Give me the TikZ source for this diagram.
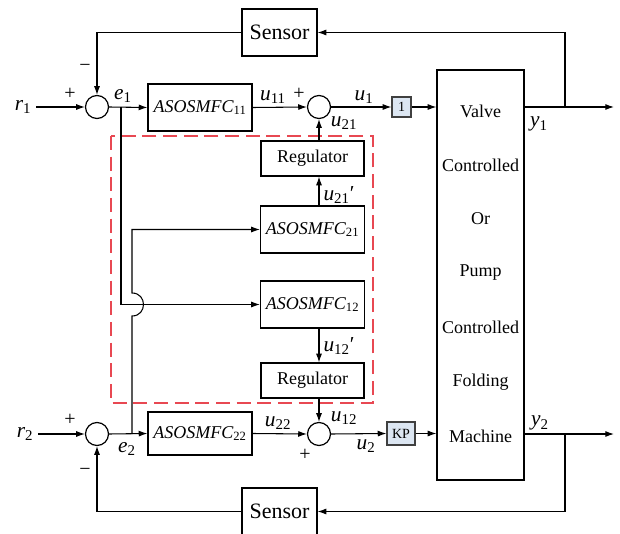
\documentclass[tikz,border=0pt]{standalone}
\usepackage{fontspec}
\setmainfont{Liberation Serif}
\usetikzlibrary{arrows.meta}
\definecolor{dashred}{RGB}{232,72,82}
\definecolor{gainfill}{RGB}{220,230,242}
\begin{document}
\begin{tikzpicture}[x=0.75pt,y=-0.75pt,
  >={Latex[length=6.5pt,width=4.5pt]},
  every path/.style={line width=0.8pt},
  blk/.style={draw,line width=0.9pt,inner sep=0pt,font=\fontsize{13.5}{16}\selectfont},
  ctl/.style={blk,minimum width=78pt,minimum height=35.25pt},
  reg/.style={blk,minimum width=77.25pt,minimum height=26.25pt},
  sens/.style={blk,minimum width=56.25pt,minimum height=35.25pt,font=\fontsize{16.5}{19}\selectfont},
  gain/.style={blk,fill=gainfill,draw=black!75,font=\fontsize{10.5}{12}\selectfont},
  sumc/.style={draw,circle,line width=0.9pt,minimum size=17.25pt,inner sep=0pt},
  lab/.style={inner sep=0pt,font=\fontsize{16}{19}\selectfont},
  sgn/.style={inner sep=0pt,font=\fontsize{15}{18}\selectfont},
  plant/.style={inner sep=0pt,font=\fontsize{13.5}{16}\selectfont}
]
\useasboundingbox (0,0) rectangle (620,534);

% dashed group
\draw[dashred,line width=1.1pt,dash pattern=on 10.5pt off 5pt] (111,136) rectangle (373,403);

% blocks
\node[sens] (sT) at (279.5,32.5) {Sensor};
\node[sens] (sB) at (279.5,511.5) {Sensor};
\node[ctl] (A11) at (200,107.5) {\textit{ASOSMFC}\textsubscript{11}};
\node[ctl,minimum height=32.25pt] (A22) at (200,433.5) {\textit{ASOSMFC}\textsubscript{22}};
\node[reg] (R1) at (312.5,158.5) {Regulator};
\node[ctl] (A21) at (312.5,229.5) {\textit{ASOSMFC}\textsubscript{21}};
\node[ctl] (A12) at (312.5,304.5) {\textit{ASOSMFC}\textsubscript{12}};
\node[reg] (R2) at (312.5,380.5) {Regulator};
\node[gain,minimum width=14.25pt,minimum height=15pt] (G1) at (401.5,107) {1};
\node[gain,minimum width=21pt,minimum height=17.25pt] (KP) at (401,433.5) {KP};
\node[blk,minimum width=65.25pt,minimum height=307.5pt] (P) at (480.5,275) {};
\node[plant] (t1) at (480.5,111) {Valve};
\node[plant] (t2) at (480.5,165) {Controlled};
\node[plant] (t3) at (480.5,219) {Or};
\node[plant] (t4) at (480.5,273) {Pump};
\node[plant] (t5) at (480.5,327) {Controlled};
\node[plant] (t6) at (480.5,382) {Folding};
\node[plant] (t7) at (480.5,436) {Machine};

% summing junctions
\node[sumc] (s1) at (97,107) {};
\node[sumc] (s2) at (319,107) {};
\node[sumc] (s3) at (97,434) {};
\node[sumc] (s4) at (319,434) {};

% inputs
\node[lab] (r1) at (23,107) {\textit{r}\textsubscript{1}};
\node[lab] (r2) at (25,434) {\textit{r}\textsubscript{2}};
\coordinate (i1) at (36,107);
\coordinate (i2) at (38,434);
\draw[->] (i1) -- (s1.west);
\draw[->] (i2) -- (s3.west);

% row 1
\coordinate (j1) at (121,107);
\draw[->] (s1.east) -- (A11.west);
\draw[->] (A11.east) -- (s2.west);
\draw[->] (s2.east) -- (G1.west);
\draw[->] (G1.east) -- (P.west |- G1.east);

% row 2
\coordinate (j2) at (132,434);
\draw[->] (s3.east) -- (A22.west);
\draw[->] (A22.east) -- (s4.west);
\draw[->] (s4.east) -- (KP.west);
\draw[->] (KP.east) -- (P.west |- KP.east);

% cross links
\draw[->] (j1) |- (A12.west);
\draw[->] (j2) -- (132,316) .. controls (147.3,316) and (147.3,293) .. (132,293) |- (A21.west);

% regulator chain
\draw[->] (s2 |- A21.north) -- (s2 |- R1.south);
\draw[->] (s2 |- R1.north) -- (s2.south);
\draw[->] (s2 |- A12.south) -- (s2 |- R2.north);
\draw[->] (s2 |- R2.south) -- (s4.north);

% outputs
\coordinate (o1) at (614,107);
\coordinate (o2) at (614,434);
\draw[->] (P.east |- s2) -- (o1);
\draw[->] (P.east |- s4) -- (o2);

% feedback
\coordinate (f1) at (565,107);
\coordinate (f2) at (565,434);
\draw[->] (f1) |- (sT.east);
\draw[->] (sT.west) -| (s1.north);
\draw[->] (f2) |- (sB.east);
\draw[->] (sB.west) -| (s3.south);

% signs
\node[sgn] (p1) at (70,94) {+};
\node[sgn] (m1) at (85,68) {−};
\node[sgn] (p3) at (70,420) {+};
\node[sgn] (m3) at (85,472) {−};
\node[sgn] (p2) at (299,94) {+};
\node[sgn] (p4) at (305,455) {+};

% signal labels
\node[lab] (le1) at (123,96) {\textit{e}\textsubscript{1}};
\node[lab] (le2) at (127,449) {\textit{e}\textsubscript{2}};
\node[lab] (lu11) at (273,97) {\textit{u}\textsubscript{11}};
\node[lab] (lu1) at (364,97) {\textit{u}\textsubscript{1}};
\node[lab] (lu21) at (344,123) {\textit{u}\textsubscript{21}};
\node[lab] (lu21p) at (339,195) {\textit{u}\textsubscript{21}\symbol{"2032}};
\node[lab] (lu12p) at (339,346) {\textit{u}\textsubscript{12}\symbol{"2032}};
\node[lab] (lu22) at (278,423) {\textit{u}\textsubscript{22}};
\node[lab] (lu12) at (344,418) {\textit{u}\textsubscript{12}};
\node[lab] (lu2) at (366,446) {\textit{u}\textsubscript{2}};
\node[lab] (ly1) at (539,124) {\textit{y}\textsubscript{1}};
\node[lab] (ly2) at (540,423) {\textit{y}\textsubscript{2}};
\end{tikzpicture}
\end{document}
